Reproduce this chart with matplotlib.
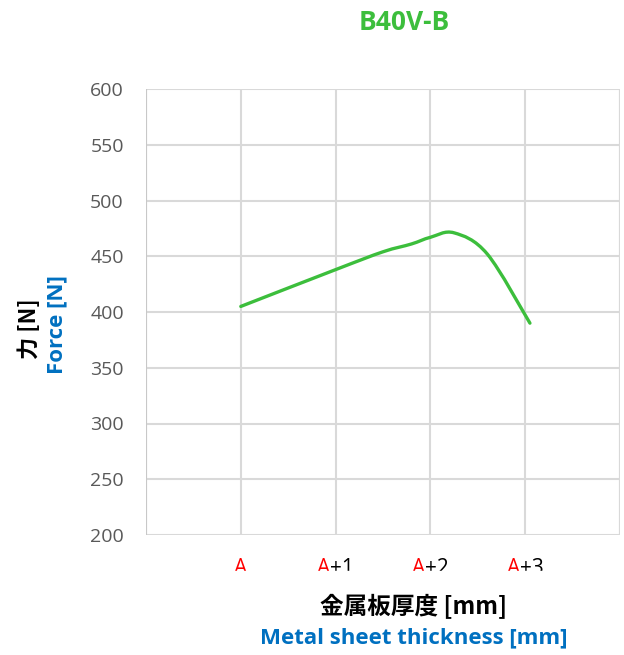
import matplotlib
matplotlib.use("Agg")
import matplotlib.pyplot as plt
from matplotlib.patches import Rectangle, PathPatch
from matplotlib.path import Path

# data
thickness = [1.0, 2.0, 2.5, 2.8, 3.0, 3.25, 3.6, 4.05]
force = [405, 438, 454, 461, 467, 471, 452, 390]
tick_pos = [1, 2, 3, 4]
tick_suffix = ["", "+1", "+2", "+3"]
yticks = list(range(200, 601, 50))

green = "#3CBE3C"
blue = "#0070C0"
grid = "#D9D9D9"
cjk = ["Noto Sans CJK JP", "DejaVu Sans"]
latin = ["Open Sans", "DejaVu Sans"]

fig = plt.figure(figsize=(6.24, 6.55), dpi=100)
ax = fig.add_axes([146 / 624, 1 - 535 / 655, 474 / 624, 446 / 655])


def smooth_path(xs, ys, t=1 / 6):
    # Catmull-Rom style bezier through the points, like a smoothed line
    verts = [(xs[0], ys[0])]
    codes = [Path.MOVETO]
    n = len(xs)
    for i in range(n - 1):
        x0, y0 = xs[max(i - 1, 0)], ys[max(i - 1, 0)]
        x1, y1 = xs[i], ys[i]
        x2, y2 = xs[i + 1], ys[i + 1]
        x3, y3 = xs[min(i + 2, n - 1)], ys[min(i + 2, n - 1)]
        c1 = (x1 + (x2 - x0) * t, y1 + (y2 - y0) * t)
        c2 = (x2 - (x3 - x1) * t, y2 - (y3 - y1) * t)
        verts += [c1, c2, (x2, y2)]
        codes += [Path.CURVE4] * 3
    return Path(verts, codes)


ax.add_patch(PathPatch(smooth_path(thickness, force), fill=False,
                       edgecolor=green, lw=2.4, capstyle="round", zorder=3))

ax.set_xlim(0, 5)
ax.set_ylim(200, 600)
ax.set_yticks(yticks)
ax.set_xticks(range(0, 6))
ax.set_xticklabels([])
ax.grid(True, color=grid, lw=1.5)
for s in ax.spines.values():
    s.set_visible(False)
ax.axvline(5, color=grid, lw=1.5)
ax.axvline(0, color="#C8C8C8", lw=1.5)
ax.tick_params(length=0, pad=16, labelsize=14, labelcolor="#595959")
for lab in ax.get_yticklabels():
    lab.set_family(latin)

# title
fig.text(404 / 624, 1 - 22 / 655, "B40V-B", color=green, fontsize=19,
         fontweight="bold", family=latin, ha="center", va="center")

# y labels
fig.text(30 / 624, 1 - 329 / 655, "力 [N]", rotation=90, color="black",
         fontsize=16, fontweight="bold", family=cjk, ha="center", va="center")
fig.text(57 / 624, 1 - 325 / 655, "Force [N]", rotation=90, color=blue,
         fontsize=16, fontweight="bold", family=latin, ha="center", va="center")

# x labels
fig.text(413 / 624, 1 - 607 / 655, "金属板厚度 [mm]", color="black",
         fontsize=17, fontweight="bold", family=cjk, ha="center", va="center")
fig.text(414 / 624, 1 - 638 / 655, "Metal sheet thickness [mm]", color=blue,
         fontsize=16, fontweight="bold", family=latin, ha="center", va="center")

# x tick labels: red "A" + black suffix
fig.canvas.draw()
r = fig.canvas.get_renderer()
ybase = 1 - 574 / 655
for p, suf in zip(tick_pos, tick_suffix):
    xpix = ax.transData.transform((p, 300))[0]
    xf = xpix / fig.bbox.width
    full = fig.text(xf, ybase, "A" + suf, fontsize=15, family=latin,
                    ha="center", va="baseline")
    bb = full.get_window_extent(r)
    full.remove()
    x0 = bb.x0 / fig.bbox.width
    x1 = bb.x1 / fig.bbox.width
    fig.text(x0, ybase, "A", fontsize=15, family=latin, ha="left",
             va="baseline", color="red")
    if suf:
        fig.text(x1, ybase, suf, fontsize=15, family=latin, ha="right",
                 va="baseline", color="black")

# the reference cuts the tick labels off at the bottom
fig.add_artist(Rectangle((150 / 624, 1 - 590 / 655), 470 / 624, 19 / 655,
                         transform=fig.transFigure, color="white", zorder=10))

fig.savefig("out.png", dpi=100)
